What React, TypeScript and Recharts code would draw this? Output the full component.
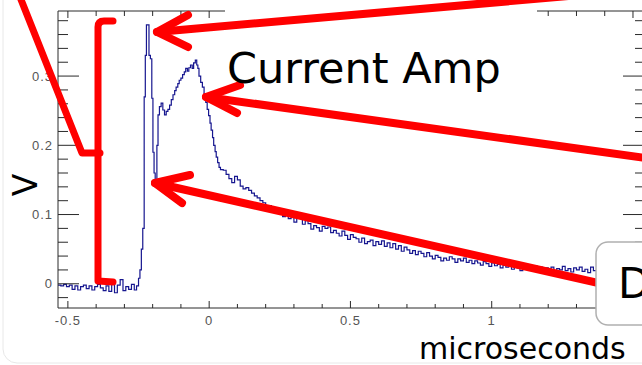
import { LineChart, Line, XAxis, YAxis } from 'recharts';

// scope trace, microseconds vs volts
const BASE_T = [
  -0.535, -0.525, -0.515, -0.505, -0.495, -0.485, -0.475, -0.465, -0.455, -0.445,
  -0.435, -0.425, -0.415, -0.405, -0.395, -0.385, -0.375, -0.365, -0.355, -0.345,
  -0.335, -0.325, -0.315, -0.305, -0.295, -0.285, -0.275, -0.265, -0.257,
];
const BASE_V = [
  -0.002, -0.003, -0.001, -0.004, -0.002, -0.008, -0.003, -0.009, -0.004, -0.002,
  -0.007, -0.003, -0.009, -0.004, -0.001, -0.006, -0.010, -0.003, -0.011, 0.004,
  -0.013, -0.002, 0.006, -0.010, -0.004, -0.008, -0.001, -0.009, -0.003,
];

const PULSE_T = [
  -0.25, -0.245, -0.24, -0.235, -0.23, -0.226, -0.222, -0.213,
  -0.208, -0.203, -0.199, -0.195, -0.191, -0.185, -0.181, -0.176,
  -0.17, -0.164, -0.158, -0.152, -0.146, -0.14, -0.134, -0.128,
  -0.122, -0.117, -0.111, -0.106, -0.1, -0.094, -0.088, -0.083,
  -0.077, -0.072, -0.066, -0.06, -0.055, -0.049, -0.044, -0.04,
  -0.036, -0.03, -0.024, -0.018, -0.012, -0.007, -0.002, 0.003,
  0.007, 0.012, 0.016, 0.021, 0.025, 0.03, 0.035, 0.04,
];
const PULSE_V = [
  0.008, 0.02, 0.05, 0.08, 0.27, 0.33, 0.374, 0.33,
  0.325, 0.268, 0.19, 0.16, 0.146, 0.2, 0.244, 0.256,
  0.261, 0.251, 0.244, 0.249, 0.252, 0.258, 0.266, 0.273,
  0.279, 0.284, 0.289, 0.294, 0.297, 0.302, 0.306, 0.311,
  0.307, 0.312, 0.316, 0.311, 0.319, 0.323, 0.316, 0.311,
  0.3, 0.291, 0.284, 0.272, 0.262, 0.252, 0.243, 0.232,
  0.222, 0.211, 0.2, 0.191, 0.183, 0.175, 0.168, 0.165,
];

const TAIL_T = [
  0.05, 0.06, 0.07, 0.08, 0.09,
  0.1, 0.11, 0.12, 0.13, 0.14, 0.15, 0.16, 0.17, 0.18, 0.19,
  0.2, 0.21, 0.22, 0.23, 0.24, 0.25, 0.26, 0.27, 0.28, 0.29,
  0.3, 0.31, 0.32, 0.33, 0.34, 0.35, 0.36, 0.37, 0.38, 0.39,
  0.4, 0.41, 0.42, 0.43, 0.44, 0.45, 0.46, 0.47, 0.48, 0.49,
  0.5, 0.51, 0.52, 0.53, 0.54, 0.55, 0.56, 0.57, 0.58, 0.59,
  0.6, 0.61, 0.62, 0.63, 0.64, 0.65, 0.66, 0.67, 0.68, 0.69,
  0.7, 0.71, 0.72, 0.73, 0.74, 0.75, 0.76, 0.77, 0.78, 0.79,
  0.8, 0.81, 0.82, 0.83, 0.84, 0.85, 0.86, 0.87, 0.88, 0.89,
  0.9, 0.91, 0.92, 0.93, 0.94, 0.95, 0.96, 0.97, 0.98, 0.99,
  1.0, 1.01, 1.02, 1.03, 1.04, 1.05, 1.06, 1.07, 1.08, 1.09,
  1.1, 1.11, 1.12, 1.13, 1.14, 1.15, 1.16, 1.17, 1.18, 1.19,
  1.2, 1.21, 1.22, 1.23, 1.24, 1.25, 1.26, 1.27, 1.28, 1.29,
  1.3, 1.31, 1.32, 1.33, 1.34, 1.35, 1.36,
  1.38, 1.4, 1.42, 1.44, 1.46, 1.48, 1.5,
];
const TAIL_V = [
  0.164, 0.158, 0.152, 0.146, 0.155,
  0.15, 0.141, 0.137, 0.139, 0.135, 0.131, 0.127, 0.124, 0.12, 0.117,
  0.112, 0.113, 0.108, 0.106, 0.104, 0.103, 0.097, 0.101, 0.094, 0.096,
  0.089, 0.095, 0.096, 0.086, 0.091, 0.087, 0.079, 0.084, 0.081, 0.076,
  0.083, 0.08, 0.082, 0.074, 0.077, 0.073, 0.069, 0.076, 0.07, 0.064,
  0.071, 0.067, 0.065, 0.06, 0.066, 0.058, 0.061, 0.063, 0.055, 0.061,
  0.057, 0.062, 0.054, 0.059, 0.052, 0.058, 0.05, 0.055, 0.047, 0.053,
  0.049, 0.044, 0.048, 0.042, 0.047, 0.044, 0.039, 0.045, 0.04, 0.036,
  0.041, 0.038, 0.033, 0.037, 0.034, 0.039, 0.036, 0.031, 0.036, 0.033,
  0.037, 0.031, 0.034, 0.029, 0.033, 0.03, 0.027, 0.032, 0.029, 0.025,
  0.03, 0.026, 0.028, 0.023, 0.027, 0.024, 0.026, 0.021, 0.025, 0.023,
  0.019, 0.025, 0.022, 0.024, 0.02, 0.026, 0.022, 0.024, 0.019, 0.023,
  0.021, 0.024, 0.018, 0.022, 0.02, 0.025, 0.019, 0.022, 0.017, 0.023,
  0.02, 0.024, 0.018, 0.021, 0.016, 0.024, 0.019,
  0.021, 0.018, 0.02, 0.017, 0.019, 0.016, 0.018,
];

const X_TICKS = [
  -0.5, -0.4, -0.3, -0.2, -0.1, 0, 0.1, 0.2, 0.3, 0.4, 0.5,
  0.6, 0.7, 0.8, 0.9, 1, 1.1, 1.2, 1.3, 1.4, 1.5,
];
// the 1.5 label sits under the "D" box in the slide, so only these get text
const X_LABELS = [-0.5, 0, 0.5, 1];
const Y_TICKS = [
  -0.02, 0, 0.02, 0.04, 0.06, 0.08, 0.1, 0.12, 0.14, 0.16, 0.18,
  0.2, 0.22, 0.24, 0.26, 0.28, 0.3, 0.32, 0.34, 0.36, 0.38,
];

const TIMES = [...BASE_T, ...PULSE_T, ...TAIL_T];
const VOLTS = [...BASE_V, ...PULSE_V, ...TAIL_V];
const data = TIMES.map((t, i) => ({ t, v: VOLTS[i] }));

const RED = '#ff0000';
const AXIS = '#2a2a2a';
const TICK_FONT = '"Liberation Sans", Arial, sans-serif';
const BIG_FONT = '"DejaVu Sans", Verdana, sans-serif';

const onStep = (v: number, step: number) => Math.abs(v / step - Math.round(v / step)) < 1e-6;
const fmt = (v: number) => String(Math.round(v * 10) / 10);

const BottomTick = ({ x, y, payload }: any) => {
  const major = onStep(payload.value, 0.5);
  const labelled = X_LABELS.some((l) => Math.abs(l - payload.value) < 1e-6);
  return (
    <g>
      <line x1={x} x2={x} y1={y} y2={y - (major ? 7 : 4)} stroke={AXIS} />
      {labelled && (
        <text x={x} y={y + 17} textAnchor="middle" fontSize={13} fill="#555" fontFamily={TICK_FONT} letterSpacing={1}>
          {fmt(payload.value)}
        </text>
      )}
    </g>
  );
};

const TopTick = ({ x, y, payload }: any) => {
  const major = onStep(payload.value, 0.5);
  return <line x1={x} x2={x} y1={y} y2={y + (major ? 7 : 5)} stroke={AXIS} />;
};

const LeftTick = ({ x, y, payload }: any) => {
  const major = onStep(payload.value, 0.1);
  return (
    <g>
      <line x1={x} x2={x + (major ? 21 : 10)} y1={y} y2={y} stroke={AXIS} />
      {major && (
        <text x={x - 5} y={y} dy="0.35em" textAnchor="end" fontSize={13} fill="#555" fontFamily={TICK_FONT} letterSpacing={1}>
          {fmt(payload.value)}
        </text>
      )}
    </g>
  );
};

const RightTick = ({ x, y, payload }: any) => {
  const major = onStep(payload.value, 0.1);
  return <line x1={x} x2={x - (major ? 21 : 9)} y1={y} y2={y} stroke={AXIS} />;
};

export default function App() {
  return (
    <div style={{ position: 'absolute', left: 0, top: 0, width: 642, height: 365, overflow: 'hidden', background: '#fff' }}>
      <LineChart width={660} height={365} data={data} margin={{ top: 0, right: 0, bottom: 0, left: 0 }}>
        <XAxis
          xAxisId="bottom"
          dataKey="t"
          type="number"
          domain={[-0.535, 1.539]}
          allowDataOverflow
          ticks={X_TICKS}
          interval={0}
          height={57}
          tickSize={0}
          tickMargin={0}
          tick={<BottomTick />}
          axisLine={{ stroke: AXIS }}
        />
        <XAxis
          xAxisId="top"
          orientation="top"
          dataKey="t"
          type="number"
          domain={[-0.535, 1.539]}
          allowDataOverflow
          ticks={X_TICKS}
          interval={0}
          height={11}
          tickSize={0}
          tickMargin={0}
          tick={<TopTick />}
          axisLine={{ stroke: AXIS }}
        />
        <YAxis
          yAxisId="left"
          type="number"
          domain={[-0.035, 0.394]}
          allowDataOverflow
          ticks={Y_TICKS}
          interval={0}
          width={58}
          tickSize={0}
          tickMargin={0}
          tick={<LeftTick />}
          axisLine={{ stroke: AXIS }}
        />
        <YAxis
          yAxisId="right"
          orientation="right"
          type="number"
          domain={[-0.035, 0.394]}
          allowDataOverflow
          ticks={Y_TICKS}
          interval={0}
          width={16}
          tickSize={0}
          tickMargin={0}
          tick={<RightTick />}
          axisLine={{ stroke: AXIS }}
        />
        <Line
          xAxisId="bottom"
          yAxisId="left"
          dataKey="v"
          type="stepAfter"
          stroke="#16168f"
          strokeWidth={1.2}
          dot={false}
          isAnimationActive={false}
        />
      </LineChart>

      {/* slide annotations drawn on top of the plot */}
      <svg width={642} height={365} style={{ position: 'absolute', left: 0, top: 0, pointerEvents: 'none' }}>
        <rect x={3} y={-14} width={700} height={377} rx={14} fill="none" stroke="#e8e8e8" />
        <rect x={225} y={0} width={312} height={40} fill="#fff" />

        <g fill="none" stroke={RED} strokeLinecap="round" strokeLinejoin="round">
          <path d="M18,-8 L82,153 L100,153" strokeWidth={7} />
          <path d="M113,21 L104,21 Q98,21 98,27 L98,281 L113,282" strokeWidth={7} />
          <path d="M157,32 L660,-12" strokeWidth={8} />
          <path d="M188,15 L157,32 L188,47" strokeWidth={8} />
          <path d="M206,97 L660,160" strokeWidth={8} />
          <path d="M240,85 L206,97 L237,113" strokeWidth={8} />
          <path d="M155,183 L660,297" strokeWidth={8} />
          <path d="M190,175 L155,183 L182,203" strokeWidth={8} />
        </g>

        <text x={227} y={83} fontSize={43} fontFamily={BIG_FONT} fill="#000">Current Amp</text>
        <text x={419} y={359} fontSize={30} fontFamily={BIG_FONT} fill="#000">microseconds</text>
        <text transform="translate(37,185) rotate(-90)" textAnchor="middle" fontSize={33} fontFamily={BIG_FONT} fill="#000">V</text>

        <rect x={596} y={242} width={80} height={83} rx={12} fill="#fff" stroke="#b0b0b0" strokeWidth={1.5} />
        <text x={618} y={298} fontSize={42} fontFamily={BIG_FONT} fill="#000">D</text>
      </svg>
    </div>
  );
}
